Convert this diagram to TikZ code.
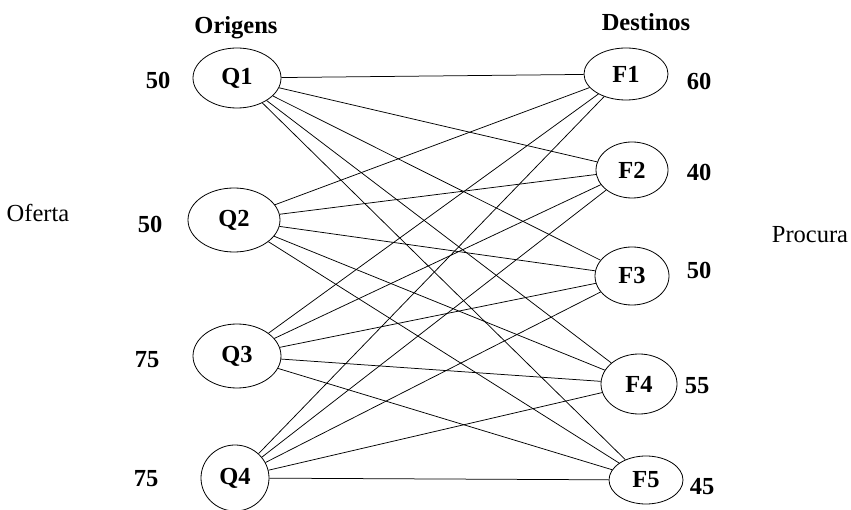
\documentclass[tikz,border=0pt]{standalone}
\usepackage{fontspec}
\setmainfont{Liberation Serif}
\usetikzlibrary{shapes.geometric}

\begin{document}
\begin{tikzpicture}[x=1pt,y=-1pt,
every node/.style={font=\fontsize{24.5}{28}\selectfont},
place/.style={draw,ellipse,line width=0.8pt,inner sep=0pt,font=\fontsize{24.5}{28}\selectfont\bfseries},
amount/.style={font=\fontsize{24.5}{28}\selectfont\bfseries},
route/.style={line width=0.75pt}]
\useasboundingbox (0,0) rectangle (851,510);
% origens
\node[place,minimum width=88,minimum height=60] (Q1) at (237,78) {Q1};
\node[place,minimum width=92,minimum height=64] (Q2) at (234,220) {Q2};
\node[place,minimum width=88,minimum height=64] (Q3) at (237,356) {Q3};
\node[place,minimum width=68,minimum height=66] (Q4) at (235,478) {Q4};
% destinos
\node[place,minimum width=84,minimum height=52] (F1) at (626,74) {F1};
\node[place,minimum width=72,minimum height=56] (F2) at (632,170) {F2};
\node[place,minimum width=74,minimum height=58] (F3) at (632,276) {F3};
\node[place,minimum width=76,minimum height=60] (F4) at (639,384) {F4};
\node[place,minimum width=74,minimum height=48] (F5) at (646,480) {F5};
% titulos
\node[amount] (orig) at (236,28) {Origens};
\node[amount] (dest) at (646,22) {Destinos};
\node (oferta) at (38,213) {Oferta};
\node (procura) at (810,235) {Procura};
% quantidades
\node[amount] (s1) at (158,80) {50};
\node[amount] (s2) at (150,224) {50};
\node[amount] (s3) at (147,360) {75};
\node[amount] (s4) at (146,479) {75};
\node[amount] (d1) at (699,81) {60};
\node[amount] (d2) at (699,172) {40};
\node[amount] (d3) at (699,270) {50};
\node[amount] (d4) at (697,386) {55};
\node[amount] (d5) at (702,487) {45};
% ligacoes
\foreach \q in {1,...,4}
  \foreach \f in {1,...,5}
    \draw[route] (Q\q) -- (F\f);
\end{tikzpicture}
\end{document}
